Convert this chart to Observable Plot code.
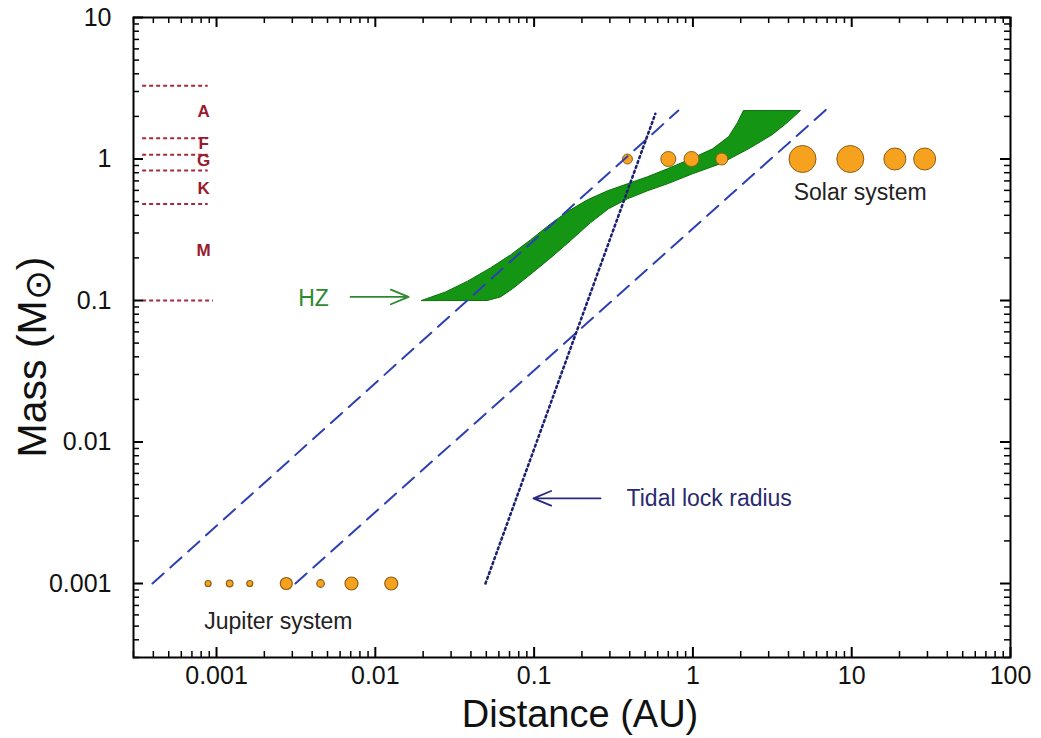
<!DOCTYPE html>
<html>
<head>
<meta charset="utf-8">
<script src="https://cdn.jsdelivr.net/npm/d3@7"></script>
<script src="https://cdn.jsdelivr.net/npm/@observablehq/plot@0.6"></script>
<style>
  html, body { margin: 0; padding: 0; background: #fff; }
  #chart { width: 1041px; height: 738px; }
</style>
</head>
<body>
<div id="chart"></div>
<script>
// ---------- data ----------
const xDomain = [0.0003, 100];
const yDomain = [0.0003, 10];
const xTickValues = [0.001, 0.01, 0.1, 1, 10, 100];
const yTickValues = [0.001, 0.01, 0.1, 1, 10];
const xTickLabels = ["0.001", "0.01", "0.1", "1", "10", "100"];
const yTickLabels = ["0.001", "0.01", "0.1", "1", "10"];

// spectral class boundaries (solar masses) and their labels
const classLineMass = [3.3, 1.4, 1.07, 0.83, 0.48, 0.1];
const classLineStart = [0.00034, 0.00034, 0.00034, 0.00034, 0.00034, 0.00034];
const classLineEnd = [0.00088, 0.00088, 0.00088, 0.00088, 0.00088, 0.00095];
const classNames = ["A", "F", "G", "K", "M"];
const classLabelMass = [2.16, 1.28, 0.97, 0.615, 0.224];
const classLabelDist = 0.00083;

// habitable zone outline: inner (upper) edge then outer (lower) edge
const hzDist = [0.0195, 0.0277, 0.0381, 0.0531, 0.0710, 0.0948, 0.127, 0.165, 0.217, 0.290, 0.387, 0.517, 0.691, 0.965, 1.33, 1.68, 1.91, 2.08, 3.08, 4.76,
                4.0, 3.17, 2.30, 1.49, 0.994, 0.691, 0.517, 0.387, 0.294, 0.226, 0.169, 0.127, 0.0976, 0.0731, 0.0614, 0.0508, 0.032];
const hzMass = [0.1, 0.115, 0.137, 0.170, 0.210, 0.268, 0.348, 0.430, 0.515, 0.596, 0.668, 0.749, 0.853, 1.0, 1.18, 1.44, 1.81, 2.2, 2.2, 2.2,
                1.84, 1.49, 1.20, 0.926, 0.786, 0.668, 0.596, 0.523, 0.445, 0.354, 0.264, 0.200, 0.157, 0.121, 0.106, 0.1, 0.1];

// dashed lines (two) and the dotted tidal-lock line: [start, end]
const dashedDist = [[0.000395, 0.81], [0.00314, 7.1]];
const dashedMass = [[0.001, 2.2], [0.001, 2.3]];
const tidalDist = [0.0494, 0.58];
const tidalMass = [0.001, 2.09];

// solar system (mass 1) and Jupiter system (mass 0.001)
const solarNames = ["Mercury", "Venus", "Earth", "Mars", "Jupiter", "Saturn", "Uranus", "Neptune"];
const solarDist = [0.387, 0.70, 0.98, 1.52, 4.9, 9.8, 18.7, 28.8];
const solarRadius = [5, 7.5, 7.5, 6, 13.5, 13.5, 11, 11];
const moonNames = ["Metis", "Amalthea", "Thebe", "Io", "Europa", "Ganymede", "Callisto"];
const moonDist = [0.000885, 0.00121, 0.00162, 0.00275, 0.00452, 0.00708, 0.0126];
const moonRadius = [3, 3.3, 3, 6, 3.8, 6.5, 6.5];

// annotations
const annText = ["HZ", "Tidal lock radius", "Solar system", "Jupiter system"];
const annDist = [0.00408, 0.382, 11.3, 0.00245];
const annMass = [0.1026, 0.0040, 0.58, 0.000538];
const arrowFrom = [[0.00698, 0.106], [0.262, 0.0040]];
const arrowTo = [[0.0162, 0.106], [0.099, 0.0040]];

// ---------- layout ----------
const W = 1041, H = 738;
const mT = 17, mR = 31, mB = 81, mL = 133;
const plotW = W - mL - mR, plotH = H - mT - mB;

const allX = d3.scaleLog().domain(xDomain).ticks();
const allY = d3.scaleLog().domain(yDomain).ticks();
const isDecade = v => Math.abs(Math.log10(v) - Math.round(Math.log10(v))) < 1e-9;
const xMinor = allX.filter(v => !isDecade(v));
const yMinor = allY.filter(v => !isDecade(v));

const classLines = classLineMass.map((m, i) => ({m, x1: classLineStart[i], x2: classLineEnd[i]}));
const classLabels = classNames.map((t, i) => ({t, x: classLabelDist, y: classLabelMass[i]}));
const hz = hzDist.map((d, i) => ({x: d, y: hzMass[i]}));
const dashed = dashedDist.flatMap((ds, k) => ds.map((d, j) => ({k, x: d, y: dashedMass[k][j]})));
const tidal = tidalDist.map((d, i) => ({x: d, y: tidalMass[i]}));
const planets = solarNames.map((n, i) => ({n, x: solarDist[i], y: 1, r: solarRadius[i]}));
const moons = moonNames.map((n, i) => ({n, x: moonDist[i], y: 0.001, r: moonRadius[i]}));
const ann = annText.map((t, i) => ({t, x: annDist[i], y: annMass[i]}));
const arrows = arrowFrom.map((a, i) => ({x1: a[0], y1: a[1], x2: arrowTo[i][0], y2: arrowTo[i][1]}));

const font = "'Liberation Sans', Arial, Helvetica, sans-serif";
const orange = "#f6a21e", orangeStroke = "#8d5f16";

const chart = Plot.plot({
  width: W, height: H,
  marginTop: mT, marginRight: mR, marginBottom: mB, marginLeft: mL,
  style: {fontFamily: font, background: "#fff", color: "#111"},
  x: {type: "log", domain: xDomain},
  y: {type: "log", domain: yDomain},
  r: {type: "identity"},
  marks: [
    // spectral class boundaries
    Plot.link(classLines, {x1: "x1", x2: "x2", y1: "m", y2: "m", stroke: "#a52a3a", strokeWidth: 2, strokeDasharray: "4,3"}),
    Plot.text(classLabels, {x: "x", y: "y", text: "t", fill: "#991b2d", fontWeight: "bold", fontSize: 17}),
    // habitable zone
    Plot.line(hz, {x: "x", y: "y", curve: "linear-closed", fill: "#149614", stroke: "#0e700e", strokeWidth: 1}),
    // planets & moons
    Plot.dot(planets, {x: "x", y: "y", r: "r", fill: orange, stroke: orangeStroke, strokeWidth: 1}),
    Plot.dot(moons, {x: "x", y: "y", r: "r", fill: orange, stroke: orangeStroke, strokeWidth: 1.2}),
    // dashed & dotted lines
    Plot.line(dashed, {x: "x", y: "y", z: "k", stroke: "#2d3fb3", strokeWidth: 2, strokeDasharray: "15,9"}),
    Plot.line(tidal, {x: "x", y: "y", stroke: "#1c2070", strokeWidth: 2.5, strokeDasharray: "2,3.2"}),
    // annotations
    Plot.arrow(arrows.slice(0, 1), {x1: "x1", y1: "y1", x2: "x2", y2: "y2", stroke: "#2f8a2f", strokeWidth: 1.8, headLength: 16, headAngle: 45}),
    Plot.arrow(arrows.slice(1), {x1: "x1", y1: "y1", x2: "x2", y2: "y2", stroke: "#2a2a80", strokeWidth: 1.8, headLength: 16, headAngle: 45}),
    Plot.text(ann.slice(0, 1), {x: "x", y: "y", text: "t", fill: "#2f8a2f", fontSize: 23}),
    Plot.text(ann.slice(1, 2), {x: "x", y: "y", text: "t", fill: "#2a2a6e", fontSize: 23, textAnchor: "start"}),
    Plot.text(ann.slice(2), {x: "x", y: "y", text: "t", fill: "#222", fontSize: 23}),
    // inward ticks on all four sides
    Plot.ruleX(xTickValues, {insetTop: plotH - 10, stroke: "#000", strokeWidth: 2}),
    Plot.ruleX(xMinor, {insetTop: plotH - 6, stroke: "#000", strokeWidth: 1.5}),
    Plot.ruleX(xTickValues, {insetBottom: plotH - 10, stroke: "#000", strokeWidth: 2}),
    Plot.ruleX(xMinor, {insetBottom: plotH - 6, stroke: "#000", strokeWidth: 1.5}),
    Plot.ruleY(yTickValues, {insetRight: plotW - 10, stroke: "#000", strokeWidth: 2}),
    Plot.ruleY(yMinor, {insetRight: plotW - 6, stroke: "#000", strokeWidth: 1.5}),
    Plot.ruleY(yTickValues, {insetLeft: plotW - 10, stroke: "#000", strokeWidth: 2}),
    Plot.ruleY(yMinor, {insetLeft: plotW - 6, stroke: "#000", strokeWidth: 1.5}),
    Plot.frame({stroke: "#000", strokeWidth: 2}),
    // tick labels
    Plot.axisX({ticks: xTickValues, tickSize: 0, tickPadding: 9, fontSize: 25, label: null,
                tickFormat: v => xTickLabels[xTickValues.indexOf(v)]}),
    Plot.axisY({ticks: yTickValues, tickSize: 0, tickPadding: 22, fontSize: 25, label: null,
                tickFormat: v => yTickLabels[yTickValues.indexOf(v)]})
  ]
});

// axis titles
const svg = d3.select(chart);
svg.append("text")
  .attr("x", 580).attr("y", 727)
  .attr("text-anchor", "middle")
  .attr("font-family", font).attr("font-size", 38).attr("fill", "#111")
  .text("Distance (AU)");
const yl = svg.append("text")
  .attr("transform", "translate(46,357) rotate(-90)")
  .attr("text-anchor", "middle")
  .attr("font-family", font).attr("font-size", 41).attr("fill", "#111");
yl.append("tspan").text("Mass (M");
yl.append("tspan").attr("font-size", 36).attr("dy", 4).text("\u2299");
yl.append("tspan").attr("dy", -4).text(")");

document.getElementById("chart").appendChild(chart);
</script>
</body>
</html>
